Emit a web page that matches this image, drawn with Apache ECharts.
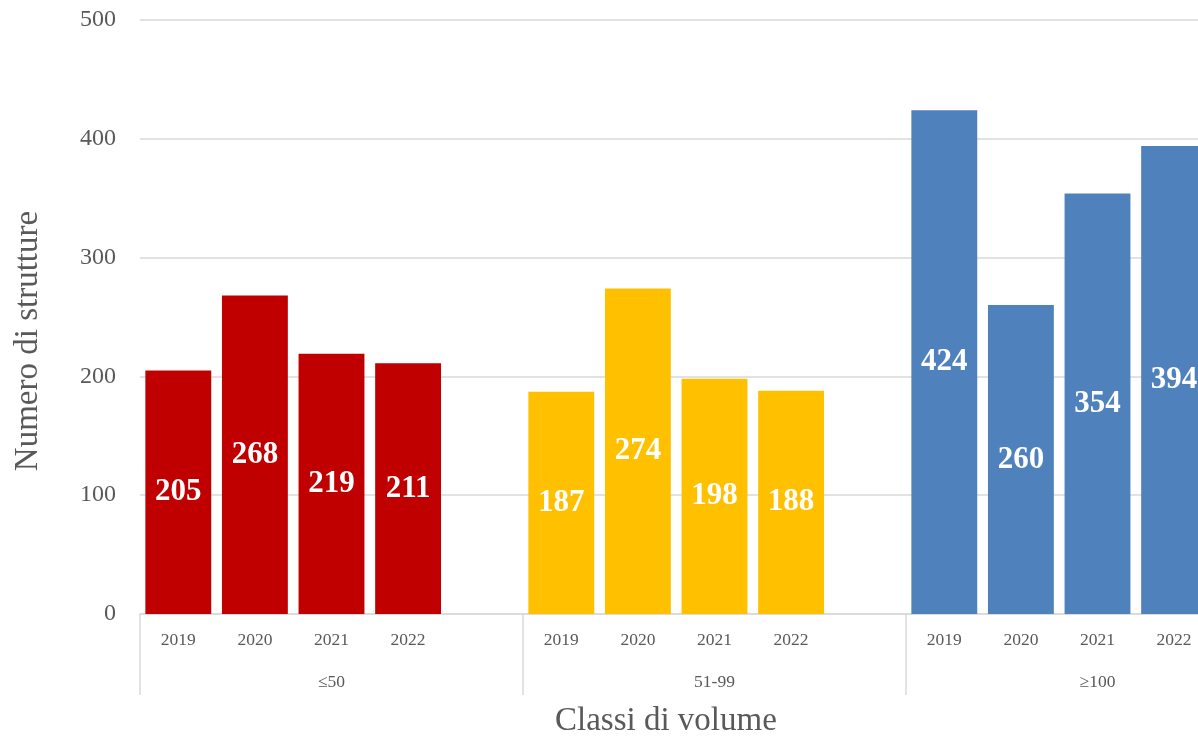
<!DOCTYPE html>
<html>
<head>
<meta charset="utf-8">
<script src="https://cdn.jsdelivr.net/npm/echarts@6/dist/echarts.min.js"></script>
<style>
    html, body { margin: 0; padding: 0; background: #fff; }
    #chart { width: 1198px; height: 737px; }
</style>
</head>
<body>
<div id="chart"></div>
<script>
// valori
const years = ['2019', '2020', '2021', '2022'];
const groups = ['≤50', '51-99', '≥100'];
const valuesLe50 = [205, 268, 219, 211];
const values51to99 = [187, 274, 198, 188];
const valuesGe100 = [424, 260, 354, 394];
const groupColors = ['#C00000', '#FFC000', '#4F81BD'];
const yTicks = [0, 100, 200, 300, 400, 500];

const FONT = '"Liberation Serif", "DejaVu Serif", serif';
const TEXT = '#595959';
const GRID_LINE = '#d9d9d9';

// ogni gruppo: 4 anni + una posizione vuota (come in Excel)
const groupValues = [valuesLe50, values51to99, valuesGe100];
const categories = [];
const barData = [];
groupValues.forEach((vals, g) => {
    years.forEach((y, i) => {
        categories.push(y);
        barData.push({value: vals[i], itemStyle: {color: groupColors[g]}});
    });
    categories.push('');
    barData.push(null);
});

const chart = echarts.init(document.getElementById('chart'), null, {renderer: 'canvas'});

chart.setOption({
    animation: false,
    // il grafico originale continua oltre il bordo destro
    grid: {left: 140, top: 20, width: 1149, height: 594, outerBoundsMode: 'none', containLabel: false},
    xAxis: [
        {
            type: 'category',
            data: categories,
            position: 'bottom',
            axisLine: {show: true, lineStyle: {color: GRID_LINE, width: 1.5}},
            axisTick: {show: false},
            axisLabel: {
                interval: 0, margin: 17,
                color: TEXT, fontFamily: FONT, fontSize: 17.5
            }
        },
        {
            type: 'category',
            data: groups,
            position: 'bottom',
            axisLine: {show: false},
            axisTick: {show: true, length: 81, lineStyle: {color: GRID_LINE, width: 1.5}},
            axisLabel: {
                interval: 0, margin: 59,
                color: TEXT, fontFamily: FONT, fontSize: 17.5
            }
        }
    ],
    yAxis: {
        type: 'value',
        min: yTicks[0],
        max: yTicks[yTicks.length - 1],
        interval: 100,
        axisLine: {show: false},
        axisTick: {show: false},
        splitLine: {lineStyle: {color: GRID_LINE, width: 1.5}},
        axisLabel: {margin: 24, color: TEXT, fontFamily: FONT, fontSize: 24}
    },
    series: [{
        type: 'bar',
        xAxisIndex: 0,
        data: barData,
        barCategoryGap: '14%',
        label: {
            show: true,
            position: 'inside',
            color: '#fff',
            fontFamily: FONT,
            fontWeight: 'bold',
            fontSize: 31
        }
    }],
    graphic: [
        {
            type: 'text',
            x: 555, y: 721,
            style: {
                text: 'Classi di volume', fill: TEXT, font: '33px ' + FONT,
                align: 'left', verticalAlign: 'middle'
            }
        },
        {
            type: 'text',
            x: 28, y: 341,
            rotation: Math.PI / 2,
            style: {
                text: 'Numero di strutture', fill: TEXT, font: '33px ' + FONT,
                align: 'center', verticalAlign: 'middle'
            }
        }
    ]
});
</script>
</body>
</html>
